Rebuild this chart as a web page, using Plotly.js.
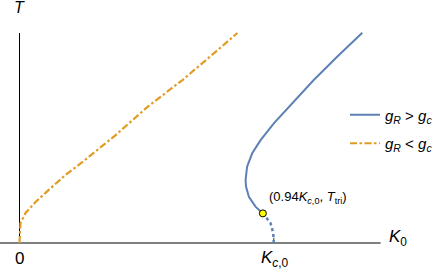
<!DOCTYPE html>
<html>
<head>
<meta charset="utf-8">
<script src="https://cdn.plot.ly/plotly-3.0.1.min.js"></script>
<style>html,body{margin:0;padding:0;background:#fff;}#chart{width:433px;height:269px;}</style>
</head>
<body>
<div id="chart"></div>
<script>
// Orange curve (g_R < g_c): K0 / Kc0 vs T
const orangeK = [0, 0.001, 0.0039, 0.0236, 0.0629, 0.114, 0.181, 0.248, 0.378, 0.507, 0.641, 0.771, 0.857];
const orangeT = [0, 0.052, 0.095, 0.143, 0.195, 0.252, 0.324, 0.386, 0.514, 0.652, 0.776, 0.910, 1.0];
// Blue curve (g_R > g_c), dotted part from Kc0 up to the tricritical point
const blueDotK = [1.0, 0.9976, 0.987, 0.957];
const blueDotT = [0, 0.048, 0.095, 0.141];
// Blue solid part from the tricritical point
const blueK = [0.957, 0.928, 0.902, 0.891, 0.889, 0.895, 0.915, 0.948, 1.0, 1.066, 1.157, 1.249, 1.348];
const blueT = [0.141, 0.173, 0.220, 0.268, 0.300, 0.363, 0.427, 0.490, 0.570, 0.657, 0.776, 0.887, 1.001];
// Tricritical point
const triK = [0.957];
const triT = [0.141];
const legendNames = ['<i>g</i><sub><i>R</i></sub> > <i>g</i><sub><i>c</i></sub>', '<i>g</i><sub><i>R</i></sub> < <i>g</i><sub><i>c</i></sub>'];

const BLUE = '#5E81B5', ORANGE = '#E19C24';
const FONT = 'Liberation Sans, Arial, sans-serif';

const traces = [
  {x: blueK, y: blueT, mode: 'lines', line: {color: BLUE, width: 2}, name: legendNames[0], legendgroup: 'a', hoverinfo: 'skip'},
  {x: orangeK, y: orangeT, mode: 'lines', line: {color: ORANGE, width: 2.2, dash: '7px,2.5px,2.5px,2.5px'}, name: legendNames[1], legendgroup: 'b', hoverinfo: 'skip'},
  {x: blueDotK, y: blueDotT, mode: 'lines', line: {color: BLUE, width: 2.5, dash: '3px,3px'}, showlegend: false, hoverinfo: 'skip'},
  {x: triK, y: triT, mode: 'markers', marker: {color: '#FFFF00', size: 7, line: {color: '#000', width: 1}}, showlegend: false, hoverinfo: 'skip'}
];

const layout = {
  width: 433, height: 269,
  margin: {l: 0, r: 0, t: 0, b: 0, pad: 0, autoexpand: false},
  paper_bgcolor: '#fff', plot_bgcolor: '#fff',
  font: {family: FONT, size: 13, color: '#000'},
  xaxis: {range: [-0.0767, 1.626], visible: false, fixedrange: true},
  yaxis: {range: [-0.1238, 1.157], visible: false, fixedrange: true},
  showlegend: true,
  legend: {x: 345 / 433, xanchor: 'left', y: 1 - 129 / 269, yanchor: 'middle', bgcolor: 'rgba(0,0,0,0)',
           tracegroupgap: 6, traceorder: 'grouped', font: {family: FONT, size: 15}},
  shapes: [
    {type: 'line', xref: 'x', yref: 'y', x0: -0.0767, x1: 1.42, y0: 0, y1: 0, line: {color: '#555', width: 1.5}, layer: 'below'},
    {type: 'line', xref: 'x', yref: 'y', x0: 0, x1: 0, y0: 0, y1: 1.0, line: {color: '#000', width: 1}, layer: 'below'},
    {type: 'line', xref: 'x', yref: 'y', x0: 1, x1: 1, y0: 0, y1: 0.025, line: {color: '#333', width: 1}, layer: 'below'},
    {type: 'line', xref: 'x', yref: 'y', x0: 0, x1: 0, y0: 0, y1: 0.025, line: {color: '#333', width: 1}, layer: 'below'}
  ],
  annotations: [
    {x: 0, y: 1.122, xref: 'x', yref: 'y', text: '<i>T</i>', showarrow: false, font: {size: 16}},
    {x: 1.447, y: 0.025, xref: 'x', yref: 'y', xanchor: 'left', text: '<i>K</i><sub>0</sub>', showarrow: false, font: {size: 17}},
    {x: 0, y: -0.075, xref: 'x', yref: 'y', text: '0', showarrow: false, font: {size: 17}},
    {x: 1.005, y: -0.076, xref: 'x', yref: 'y', text: '<i>K</i><sub><i>c</i>,0</sub>', showarrow: false, font: {size: 17}},
    {x: 0.975, y: 0.215, xref: 'x', yref: 'y', xanchor: 'left', text: '(0.94<i>K</i><sub><i>c</i>,0</sub>, <i>T</i><sub>tri</sub>)', showarrow: false, font: {size: 13}}
  ]
};

Plotly.newPlot('chart', traces, layout, {staticPlot: true, displayModeBar: false});
</script>
</body>
</html>
